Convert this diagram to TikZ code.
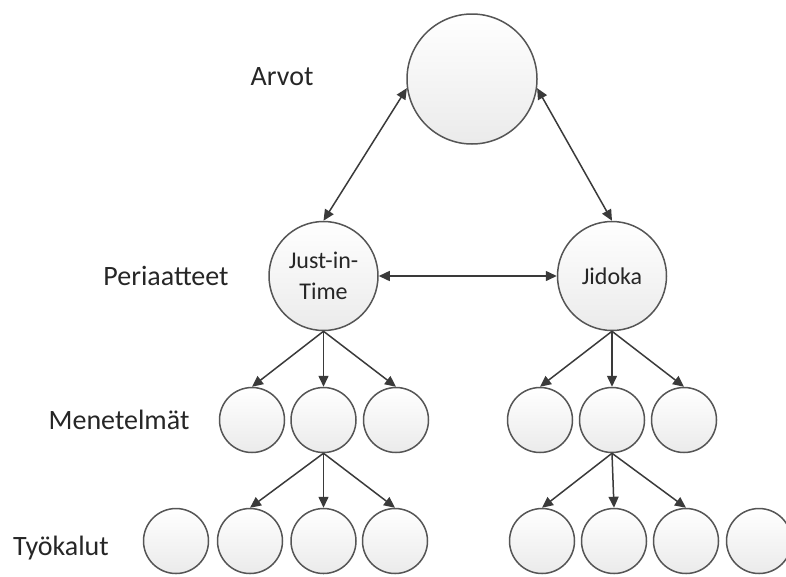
\documentclass[tikz,border=0pt]{standalone}
\usepackage{fontspec}
\setmainfont{Carlito}
\usetikzlibrary{arrows.meta}
\definecolor{edge}{HTML}{555555}
\definecolor{arr}{HTML}{3A3A3A}
\definecolor{txt}{HTML}{262626}
\tikzset{
  bubble/.style={circle, draw=edge, line width=1.5pt, top color=white, bottom color=gray!16, inner sep=0pt, minimum size=#1, font=\fontsize{24}{31}\selectfont, text=txt, align=center},
  lbl/.style={font=\fontsize{28}{32}\selectfont, text=txt, inner sep=0pt},
  link/.style={draw=arr, line width=1.5pt, -{Triangle[length=11pt,width=10pt]}},
  dlink/.style={draw=arr, line width=1.5pt, {Triangle[length=11pt,width=10pt]}-{Triangle[length=11pt,width=10pt]}}
}
\begin{document}
\begin{tikzpicture}[x=1pt,y=-1pt]
\useasboundingbox (0,0) rectangle (786,576);
\clip (0,0) rectangle (786,576);
% labels
\node[lbl] (l1) at (282,77) {Arvot};
\node[lbl] (l2) at (166,276) {Periaatteet};
\node[lbl] (l3) at (119,420) {Menetelmät};
\node[lbl] (l4) at (61,548) {Työkalut};
% top
\node[bubble=130pt] (top) at (472,79) {};
\node[bubble=109pt] (jit) at (323.5,276) {Just-in-\\Time};
\node[bubble=109pt] (jid) at (612,276) {Jidoka};
% methods
\node[bubble=65pt] (m1) at (252,420) {};
\node[bubble=65pt] (m2) at (323.5,420) {};
\node[bubble=65pt] (m3) at (396,420) {};
\node[bubble=65pt] (n1) at (540,420) {};
\node[bubble=65pt] (n2) at (612,420) {};
\node[bubble=65pt] (n3) at (684,420) {};
% tools
\node[bubble=65pt] (t1) at (176,541) {};
\node[bubble=65pt] (t2) at (250,541) {};
\node[bubble=65pt] (t3) at (323.5,541) {};
\node[bubble=65pt] (t4) at (395,541) {};
\node[bubble=65pt] (u1) at (542,541) {};
\node[bubble=65pt] (u2) at (614,541) {};
\node[bubble=65pt] (u3) at (686,541) {};
\node[bubble=65pt] (u4) at (759,541) {};
% connectors
\draw[dlink] (top.188) -- (jit.north);
\draw[dlink] (top.352) -- (jid.north);
\draw[dlink] (jit.east) -- (jid.west);
\draw[link] (jit.south) -- (m1.north);
\draw[link] (jit.south) -- (m2.north);
\draw[link] (jit.south) -- (m3.north);
\draw[link] (jid.south) -- (n1.north);
\draw[link] (jid.south) -- (n2.north);
\draw[link] (jid.south) -- (n3.north);
\draw[link] (m2.south) -- (t2.north);
\draw[link] (m2.south) -- (t3.north);
\draw[link] (m2.south) -- (t4.north);
\draw[link] (n2.south) -- (u1.north);
\draw[link] (n2.south) -- (u2.north);
\draw[link] (n2.south) -- (u3.north);
\end{tikzpicture}
\end{document}
